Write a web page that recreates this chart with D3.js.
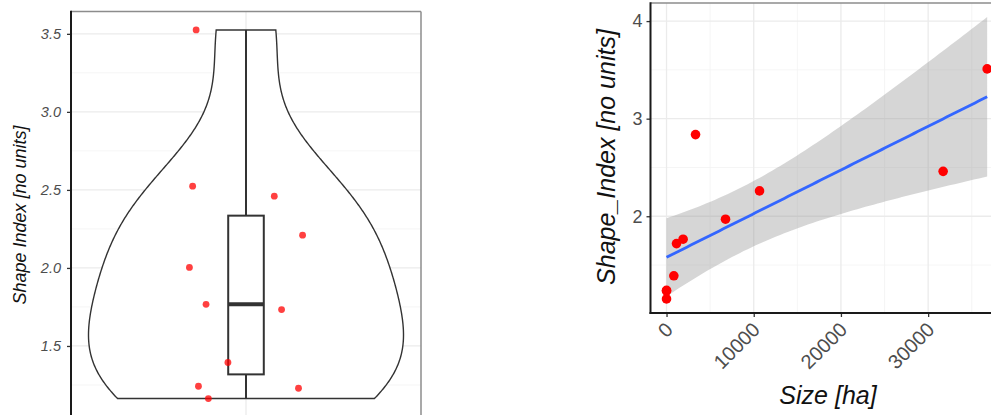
<!DOCTYPE html>
<html>
<head>
<meta charset="utf-8">
<script src="https://cdn.jsdelivr.net/npm/d3@7"></script>
<style>
  body { margin: 0; background: #fff; }
  svg { display: block; font-family: "Liberation Sans", Arial, sans-serif; }
</style>
</head>
<body>
<svg id="chart" width="991" height="415"></svg>
<script>
// Violin panel: shape index of each unit, with jittered raw points
const violinValues = [3.525, 2.524, 2.46, 2.21, 2.003, 1.767, 1.733, 1.394, 1.242, 1.229, 1.163];
const violinJitter = [-0.171, -0.183, 0.097, 0.194, -0.194, -0.137, 0.122, -0.062, -0.163, 0.180, -0.129];
const violinTicks = [1.5, 2.0, 2.5, 3.0, 3.5];

// Scatter panel: unit size against shape index
const sizeHa = [0, 0, 0, 837, 1147, 1900, 3326, 6766, 10665, 31720, 36770];
const shapeIndex = [1.153, 1.235, 1.24, 1.39, 1.72, 1.765, 2.837, 1.97, 2.26, 2.46, 3.51];
const sizeTicks = [0, 10000, 20000, 30000];
const shapeTicks = [2, 3, 4];

const svg = d3.select("#chart");
const ink = "#333333";

function expand(lo, hi, f = 0.05) {
  const d = (hi - lo) * f;
  return [lo - d, hi + d];
}

// ---------- left panel: violin + box + jitter ----------
{
  const P = { left: 71, right: 421, top: 11.5, bottom: 417 };
  const x = d3.scaleLinear().domain([0.4, 1.6]).range([P.left, P.right]);
  const y = d3.scaleLinear().domain(expand(d3.min(violinValues), d3.max(violinValues))).range([P.bottom, P.top]);
  const g = svg.append("g");

  // grid
  const minor = d3.range(1.25, 3.76, 0.5);
  g.selectAll(".mn").data(minor).join("line")
    .attr("x1", P.left).attr("x2", P.right).attr("y1", d => y(d)).attr("y2", d => y(d))
    .attr("stroke", "#f3f3f3").attr("stroke-width", 0.8);
  g.selectAll(".mj").data(violinTicks).join("line")
    .attr("x1", P.left).attr("x2", P.right).attr("y1", d => y(d)).attr("y2", d => y(d))
    .attr("stroke", "#ebebeb").attr("stroke-width", 1.3);
  g.append("line").attr("x1", x(1)).attr("x2", x(1)).attr("y1", P.top).attr("y2", P.bottom)
    .attr("stroke", "#ebebeb").attr("stroke-width", 1.3);

  // kernel density (gaussian, nrd0 bandwidth) trimmed to the data range
  const sorted = violinValues.slice().sort(d3.ascending);
  const n = sorted.length;
  const q1 = d3.quantile(sorted, 0.25), med = d3.quantile(sorted, 0.5), q3 = d3.quantile(sorted, 0.75);
  const iqr = q3 - q1;
  const bw = 0.9 * Math.min(d3.deviation(sorted), iqr / 1.34) * Math.pow(n, -0.2);
  const lo = sorted[0], hi = sorted[n - 1];
  const grid = d3.range(0, 512).map(i => lo + (hi - lo) * i / 511);
  const dens = grid.map(v => [v, d3.sum(sorted, s => Math.exp(-0.5 * ((v - s) / bw) ** 2))]);
  const dmax = d3.max(dens, d => d[1]);
  const halfW = 0.54;
  const w = d3.scaleLinear().domain([0, dmax]).range([0, halfW]);
  const outline = dens.map(d => [x(1 + w(d[1])), y(d[0])])
    .concat(dens.slice().reverse().map(d => [x(1 - w(d[1])), y(d[0])]));
  g.append("path").attr("d", d3.line()(outline) + "Z")
    .attr("fill", "white").attr("stroke", ink).attr("stroke-width", 1.4);

  // box and whiskers
  const upper = d3.max(sorted.filter(v => v <= q3 + 1.5 * iqr));
  const lower = d3.min(sorted.filter(v => v >= q1 - 1.5 * iqr));
  const bh = 0.061;
  g.append("line").attr("x1", x(1)).attr("x2", x(1)).attr("y1", y(q3)).attr("y2", y(upper))
    .attr("stroke", ink).attr("stroke-width", 2);
  g.append("line").attr("x1", x(1)).attr("x2", x(1)).attr("y1", y(q1)).attr("y2", y(lower))
    .attr("stroke", ink).attr("stroke-width", 2);
  g.append("rect").attr("x", x(1 - bh)).attr("width", x(1 + bh) - x(1 - bh))
    .attr("y", y(q3)).attr("height", y(q1) - y(q3))
    .attr("fill", "white").attr("stroke", ink).attr("stroke-width", 2);
  g.append("line").attr("x1", x(1 - bh)).attr("x2", x(1 + bh)).attr("y1", y(med)).attr("y2", y(med))
    .attr("stroke", ink).attr("stroke-width", 4);

  // jittered points
  g.selectAll(".pt").data(violinValues).join("circle")
    .attr("cx", (d, i) => x(1 + violinJitter[i])).attr("cy", d => y(d)).attr("r", 3.4)
    .attr("fill", "#ff0000").attr("fill-opacity", 0.75);

  // frame
  g.append("line").attr("x1", P.left).attr("x2", P.right).attr("y1", P.top).attr("y2", P.top)
    .attr("stroke", "#8c8c8c").attr("stroke-width", 1.5);
  g.append("line").attr("x1", P.right).attr("x2", P.right).attr("y1", P.top).attr("y2", P.bottom)
    .attr("stroke", "#8c8c8c").attr("stroke-width", 1.5);

  const ax = g.append("g").attr("transform", `translate(${P.left},0)`)
    .call(d3.axisLeft(y).tickValues(violinTicks).tickFormat(d3.format(".1f")).tickSize(4).tickPadding(6));
  ax.select(".domain").remove();
  ax.selectAll(".tick line").attr("stroke", ink).attr("stroke-width", 1.3);
  ax.selectAll(".tick text").attr("fill", "#4d4d4d").style("font-size", "14.5px").style("font-style", "italic")
    .style("font-family", "Liberation Sans, Arial, sans-serif");
  g.append("line").attr("x1", P.left).attr("x2", P.left).attr("y1", P.top - 0.75).attr("y2", P.bottom)
    .attr("stroke", "#1a1a1a").attr("stroke-width", 2);

  g.append("text").attr("transform", `translate(26,215) rotate(-90)`)
    .attr("text-anchor", "middle").attr("fill", "#111").style("font-size", "18px").style("font-style", "italic")
    .text("Shape Index [no units]");
}

// ---------- right panel: scatter with linear fit and 95% band ----------
{
  const P = { left: 650.5, top: 3, bottom: 313 };
  const n = sizeHa.length;
  const mx = d3.mean(sizeHa), my = d3.mean(shapeIndex);
  const sxx = d3.sum(sizeHa, v => (v - mx) ** 2);
  const sxy = d3.sum(sizeHa, (v, i) => (v - mx) * (shapeIndex[i] - my));
  const slope = sxy / sxx, icpt = my - slope * mx;
  const rss = d3.sum(sizeHa, (v, i) => (shapeIndex[i] - icpt - slope * v) ** 2);
  const sRes = Math.sqrt(rss / (n - 2));
  const tCrit = 2.262; // 97.5% Student t quantile, 9 degrees of freedom
  const xLo = d3.min(sizeHa), xHi = d3.max(sizeHa);
  const fit = d3.range(0, 80).map(i => {
    const v = xLo + (xHi - xLo) * i / 79;
    const yhat = icpt + slope * v;
    const se = sRes * Math.sqrt(1 / n + (v - mx) ** 2 / sxx);
    return { v, yhat, lo: yhat - tCrit * se, hi: yhat + tCrit * se };
  });

  const xd = expand(xLo, xHi);
  const pxPerUnit = 0.00872;
  const P_right = P.left + (xd[1] - xd[0]) * pxPerUnit;
  const x = d3.scaleLinear().domain(xd).range([P.left, P_right]);
  const yLo = Math.min(d3.min(shapeIndex), d3.min(fit, d => d.lo));
  const yHi = Math.max(d3.max(shapeIndex), d3.max(fit, d => d.hi));
  const y = d3.scaleLinear().domain(expand(yLo, yHi)).range([P.bottom, P.top]);
  const g = svg.append("g");

  // grid
  const xMinor = [5000, 15000, 25000, 35000];
  const yMinor = [1.5, 2.5, 3.5];
  g.selectAll(".xm").data(xMinor).join("line")
    .attr("x1", d => x(d)).attr("x2", d => x(d)).attr("y1", P.top).attr("y2", P.bottom)
    .attr("stroke", "#f3f3f3").attr("stroke-width", 0.8);
  g.selectAll(".ym").data(yMinor).join("line")
    .attr("x1", P.left).attr("x2", P_right).attr("y1", d => y(d)).attr("y2", d => y(d))
    .attr("stroke", "#f3f3f3").attr("stroke-width", 0.8);
  g.selectAll(".xg").data(sizeTicks).join("line")
    .attr("x1", d => x(d)).attr("x2", d => x(d)).attr("y1", P.top).attr("y2", P.bottom)
    .attr("stroke", "#ebebeb").attr("stroke-width", 1.3);
  g.selectAll(".yg").data(shapeTicks).join("line")
    .attr("x1", P.left).attr("x2", P_right).attr("y1", d => y(d)).attr("y2", d => y(d))
    .attr("stroke", "#ebebeb").attr("stroke-width", 1.3);

  // confidence band and fitted line
  g.append("path").datum(fit)
    .attr("d", d3.area().x(d => x(d.v)).y0(d => y(d.lo)).y1(d => y(d.hi)))
    .attr("fill", "#999999").attr("fill-opacity", 0.4);
  g.append("path").datum(fit)
    .attr("d", d3.line().x(d => x(d.v)).y(d => y(d.yhat)))
    .attr("fill", "none").attr("stroke", "#3366ff").attr("stroke-width", 2.8);

  g.selectAll(".pt").data(sizeHa).join("circle")
    .attr("cx", d => x(d)).attr("cy", (d, i) => y(shapeIndex[i])).attr("r", 4.8)
    .attr("fill", "#ff0000");

  // frame
  g.append("line").attr("x1", P.left).attr("x2", P_right).attr("y1", P.top).attr("y2", P.top)
    .attr("stroke", "#8c8c8c").attr("stroke-width", 1.5);

  const ay = g.append("g").attr("transform", `translate(${P.left},0)`)
    .call(d3.axisLeft(y).tickValues(shapeTicks).tickFormat(d3.format("d")).tickSize(4).tickPadding(4));
  ay.select(".domain").remove();
  ay.selectAll(".tick line").attr("stroke", ink).attr("stroke-width", 1.3);
  ay.selectAll(".tick text").attr("fill", "#4d4d4d").style("font-size", "18px")
    .style("font-family", "Liberation Sans, Arial, sans-serif");

  const axx = g.append("g").attr("transform", `translate(0,${P.bottom})`)
    .call(d3.axisBottom(x).tickValues(sizeTicks).tickFormat(d3.format("d")).tickSize(4).tickPadding(4));
  axx.select(".domain").remove();
  axx.selectAll(".tick line").attr("stroke", ink).attr("stroke-width", 1.3);
  axx.selectAll(".tick text").attr("fill", "#4d4d4d").style("font-size", "20px")
    .style("font-family", "Liberation Sans, Arial, sans-serif")
    .attr("text-anchor", "end").attr("dy", null).attr("y", null)
    .attr("transform", "translate(7,18) rotate(-45)");

  g.append("line").attr("x1", P.left).attr("x2", P.left).attr("y1", P.top - 0.75).attr("y2", P.bottom + 1)
    .attr("stroke", "#1a1a1a").attr("stroke-width", 2);
  g.append("line").attr("x1", P.left - 1).attr("x2", P_right).attr("y1", P.bottom).attr("y2", P.bottom)
    .attr("stroke", "#1a1a1a").attr("stroke-width", 2);

  g.append("text").attr("transform", `translate(615,157) rotate(-90)`)
    .attr("text-anchor", "middle").attr("fill", "#111").style("font-size", "25px").style("font-style", "italic")
    .text("Shape_Index [no units]");
  g.append("text").attr("x", 828).attr("y", 404)
    .attr("text-anchor", "middle").attr("fill", "#111").style("font-size", "25px").style("font-style", "italic")
    .text("Size [ha]");
}
</script>
</body>
</html>
